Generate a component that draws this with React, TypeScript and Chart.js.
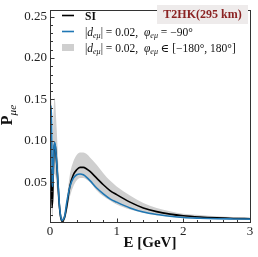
import { useEffect, useRef } from 'react';
import { Chart, registerables } from 'chart.js';

Chart.register(...registerables);

const E = [0.005, 0.012, 0.018, 0.024, 0.032, 0.042, 0.05, 0.06, 0.07, 0.08, 0.09, 0.10, 0.12, 0.14, 0.16, 0.18, 0.20, 0.22, 0.25, 0.30, 0.35, 0.40, 0.45, 0.50, 0.55, 0.60, 0.70, 0.80, 0.90, 1.00, 1.20, 1.40, 1.60, 1.80, 2.00, 2.25, 2.50, 2.75, 3.00];
const SI = [0.03, 0.055, 0.066, 0.045, 0.02, 0.035, 0.065, 0.088, 0.096, 0.093, 0.084, 0.073, 0.048, 0.022, 0.008, 0.003, 0.004, 0.008, 0.02, 0.046, 0.059, 0.065, 0.068, 0.068, 0.066, 0.063, 0.055, 0.047, 0.040, 0.035, 0.026, 0.019, 0.0145, 0.0115, 0.0095, 0.008, 0.007, 0.0063, 0.006];
const NSI_M90 = [0.09, 0.135, 0.142, 0.12, 0.06, 0.045, 0.07, 0.092, 0.098, 0.094, 0.085, 0.075, 0.05, 0.024, 0.009, 0.004, 0.005, 0.009, 0.025, 0.045, 0.055, 0.059, 0.060, 0.059, 0.056, 0.052, 0.043, 0.036, 0.030, 0.026, 0.019, 0.014, 0.011, 0.009, 0.0075, 0.0066, 0.006, 0.0057, 0.0055];
const BAND_HI = [0.11, 0.145, 0.15, 0.14, 0.1, 0.1, 0.125, 0.147, 0.152, 0.145, 0.13, 0.115, 0.08, 0.04, 0.016, 0.007, 0.008, 0.014, 0.03, 0.06, 0.075, 0.083, 0.086, 0.086, 0.084, 0.080, 0.071, 0.061, 0.052, 0.045, 0.034, 0.025, 0.019, 0.015, 0.012, 0.0105, 0.009, 0.008, 0.0075];
const BAND_LO = [0.015, 0.025, 0.03, 0.02, 0.008, 0.012, 0.035, 0.055, 0.06, 0.058, 0.052, 0.045, 0.028, 0.012, 0.004, 0.002, 0.002, 0.004, 0.013, 0.033, 0.045, 0.052, 0.055, 0.055, 0.053, 0.050, 0.040, 0.033, 0.028, 0.023, 0.017, 0.013, 0.0102, 0.0083, 0.0068, 0.0058, 0.0053, 0.005, 0.0048];

const X_TICKS = [0, 1, 2, 3];
const Y_TICKS = [0.05, 0.1, 0.15, 0.2, 0.25];
const X_MINOR_STEP = 0.2;
const Y_MINOR_STEP = 0.01;

const SERIF = '"Liberation Serif", "DejaVu Serif", serif';

type Seg = { t: string; it?: boolean; b?: boolean; sub?: boolean };

function segFont(s: Seg, size: number) {
  const sz = s.sub ? size * 0.7 : size;
  return `${s.it ? 'italic ' : ''}${s.b ? 'bold ' : ''}${sz}px ${SERIF}`;
}
function richWidth(ctx: CanvasRenderingContext2D, segs: Seg[], size: number) {
  let w = 0;
  for (const s of segs) {
    ctx.font = segFont(s, size);
    w += ctx.measureText(s.t).width;
  }
  return w;
}
function drawRich(ctx: CanvasRenderingContext2D, x: number, y: number, segs: Seg[], size: number) {
  ctx.textAlign = 'left';
  ctx.textBaseline = 'alphabetic';
  let cx = x;
  for (const s of segs) {
    ctx.font = segFont(s, size);
    ctx.fillText(s.t, cx, s.sub ? y + size * 0.22 : y);
    cx += ctx.measureText(s.t).width;
  }
}

const LEG2: Seg[] = [
  { t: '|' }, { t: 'd', it: true }, { t: 'eμ', it: true, sub: true }, { t: '| = 0.02,  ' },
  { t: 'φ', it: true }, { t: 'eμ', it: true, sub: true }, { t: ' = −90°' },
];
const LEG3: Seg[] = [
  { t: '|' }, { t: 'd', it: true }, { t: 'eμ', it: true, sub: true }, { t: '| = 0.02,  ' },
  { t: 'φ', it: true }, { t: 'eμ', it: true, sub: true }, { t: ' ∈ [−180°, 180°]' },
];

const deco = {
  id: 'deco',
  afterDraw(chart: any) {
    const { ctx, chartArea: a, scales } = chart;
    const xs = scales.x;
    const ys = scales.y;
    ctx.save();
    const L = Math.floor(a.left) + 0.5;
    const B = Math.floor(a.bottom) + 0.5;
    const R = Math.floor(a.right) + 0.5;
    const T = Math.floor(a.top) + 0.5;
    ctx.strokeStyle = '#333';
    ctx.lineWidth = 1;
    ctx.strokeRect(L, T, R - L, B - T);
    ctx.beginPath();
    const nx = Math.round((xs.max - xs.min) / X_MINOR_STEP);
    for (let i = 0; i <= nx; i++) {
      const v = xs.min + i * X_MINOR_STEP;
      const major = X_TICKS.some((t) => Math.abs(t - v) < 1e-6);
      const px = Math.round(xs.getPixelForValue(v)) + 0.5;
      ctx.moveTo(px, B);
      ctx.lineTo(px, B - (major ? 4 : 2.5));
    }
    const ny = Math.floor(ys.max / Y_MINOR_STEP + 1e-6);
    for (let i = 1; i <= ny; i++) {
      const v = i * Y_MINOR_STEP;
      if (v < ys.min) continue;
      const major = Y_TICKS.some((t) => Math.abs(t - v) < 1e-6);
      const py = Math.round(ys.getPixelForValue(v)) + 0.5;
      ctx.moveTo(L, py);
      ctx.lineTo(L + (major ? 4 : 2.5), py);
    }
    ctx.stroke();

    // x title
    ctx.fillStyle = '#111';
    ctx.font = `bold 15px ${SERIF}`;
    ctx.textAlign = 'center';
    ctx.textBaseline = 'middle';
    ctx.fillText('E [GeV]', (a.left + a.right) / 2, 243);

    // y title
    ctx.save();
    ctx.translate(12, 115);
    ctx.rotate(-Math.PI / 2);
    const ySegs: Seg[] = [{ t: 'P', b: true }, { t: 'μe', it: true, sub: true }];
    const yw = richWidth(ctx, ySegs, 16);
    drawRich(ctx, -yw / 2, 0, ySegs, 16);
    ctx.restore();

    // legend
    const lx0 = 62, lx1 = 74, tx = 85, fs = 11.5;
    ctx.lineWidth = 1.6;
    ctx.strokeStyle = '#000';
    ctx.beginPath(); ctx.moveTo(lx0, 15.5); ctx.lineTo(lx1, 15.5); ctx.stroke();
    ctx.strokeStyle = '#1f77b4';
    ctx.beginPath(); ctx.moveTo(lx0, 31.5); ctx.lineTo(lx1, 31.5); ctx.stroke();
    ctx.fillStyle = '#cfcfcf';
    ctx.fillRect(lx0, 44, lx1 - lx0, 7);
    ctx.fillStyle = '#111';
    drawRich(ctx, tx, 19.5, [{ t: 'SI', b: true }], fs);
    drawRich(ctx, tx, 35.5, LEG2, fs);
    drawRich(ctx, tx, 51.5, LEG3, fs);

    // experiment box
    ctx.fillStyle = 'rgb(238,235,235)';
    ctx.fillRect(157, 5, 91, 19);
    ctx.fillStyle = '#8b2323';
    ctx.font = `bold 12px ${SERIF}`;
    ctx.textAlign = 'center';
    ctx.textBaseline = 'middle';
    ctx.fillText('T2HK(295 km)', 202.5, 15);
    ctx.restore();
  },
};

export default function App() {
  const ref = useRef<HTMLCanvasElement>(null);
  useEffect(() => {
    const pts = (arr: number[]) => E.map((e, i) => ({ x: e, y: arr[i] }));
    const chart = new Chart(ref.current!, {
      type: 'line',
      data: {
        datasets: [
          { label: 'NSI -90', data: pts(NSI_M90), borderColor: '#1f77b4', borderWidth: 1.6, pointRadius: 0, cubicInterpolationMode: 'monotone', fill: false },
          { label: 'SI', data: pts(SI), borderColor: '#000', borderWidth: 1.6, pointRadius: 0, cubicInterpolationMode: 'monotone', fill: false },
          { label: 'hi', data: pts(BAND_HI), borderWidth: 0, borderColor: 'rgba(0,0,0,0)', backgroundColor: '#cfcfcf', pointRadius: 0, cubicInterpolationMode: 'monotone', fill: '+1' },
          { label: 'lo', data: pts(BAND_LO), borderWidth: 0, borderColor: 'rgba(0,0,0,0)', pointRadius: 0, cubicInterpolationMode: 'monotone', fill: false },
        ],
      } as any,
      options: {
        animation: false,
        responsive: true,
        maintainAspectRatio: false,
        layout: { padding: { top: 3, right: 8, left: 0, bottom: 0 } },
        plugins: { legend: { display: false }, tooltip: { enabled: false } },
        scales: {
          x: {
            type: 'linear',
            min: 0,
            max: 3,
            grid: { display: false, drawTicks: false },
            border: { display: false },
            afterBuildTicks: (s: any) => { s.ticks = X_TICKS.map((v) => ({ value: v })); },
            afterFit: (s: any) => { s.height = 35; },
            ticks: { color: '#222', padding: 2, maxRotation: 0, autoSkip: false, font: { family: SERIF, size: 13 }, callback: (v: any) => String(v) },
          },
          y: {
            type: 'linear',
            min: 0.002,
            max: 0.257,
            grid: { display: false, drawTicks: false },
            border: { display: false },
            afterBuildTicks: (s: any) => { s.ticks = Y_TICKS.map((v) => ({ value: v })); },
            afterFit: (s: any) => { s.width = 50; },
            ticks: { color: '#222', padding: 3, autoSkip: false, font: { family: SERIF, size: 13 }, callback: (v: any) => Number(v).toFixed(2) },
          },
        },
      } as any,
      plugins: [deco],
    });
    return () => chart.destroy();
  }, []);
  return (
    <div style={{ position: 'absolute', left: 0, top: 0, width: 258, height: 257 }}>
      <canvas ref={ref} />
    </div>
  );
}
